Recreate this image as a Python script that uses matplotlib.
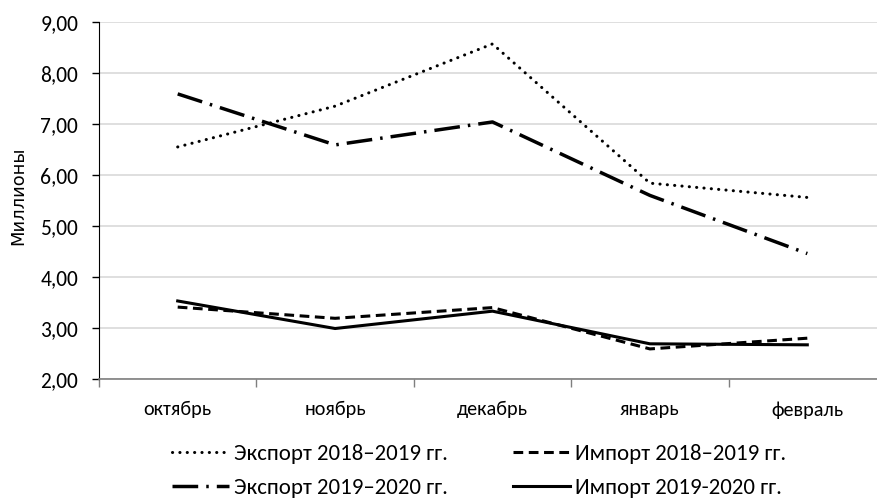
import matplotlib.pyplot as plt
import matplotlib.ticker as mticker

plt.rcParams['font.family'] = ['Carlito', 'DejaVu Sans']
plt.rcParams['lines.scale_dashes'] = False

months = ['октябрь', 'ноябрь', 'декабрь', 'январь', 'февраль']
export_18_19 = [6.55, 7.35, 8.57, 5.84, 5.56]
import_18_19 = [3.41, 3.19, 3.40, 2.59, 2.80]
export_19_20 = [7.59, 6.59, 7.04, 5.60, 4.46]
import_19_20 = [3.53, 2.99, 3.33, 2.69, 2.67]

W, H = 878, 498
fs = 14.5
fig = plt.figure(figsize=(W / 100, H / 100), dpi=100)
ax = fig.add_axes([99 / W, 1 - 379 / H, 787 / W, 357 / H])

x = range(len(months))
lw = 2.2
l1, = ax.plot(x, export_18_19, color='black', lw=lw, dashes=(0.1, 5.2),
              dash_capstyle='round', label='Экспорт 2018–2019 гг.')
l2, = ax.plot(x, import_18_19, color='black', lw=lw, dashes=(7.0, 4.0),
              dash_capstyle='butt', label='Импорт 2018–2019 гг.')
l3, = ax.plot(x, export_19_20, color='black', lw=lw + 0.3, dashes=(18.5, 5.8, 1.8, 5.8),
              dash_capstyle='butt', label='Экспорт 2019–2020 гг.')
l4, = ax.plot(x, import_19_20, color='black', lw=lw, label='Импорт 2019-2020 гг.',
              solid_joinstyle='miter')

ax.set_xlim(-0.5, len(months) - 0.5)
ax.set_ylim(2, 9)
ax.yaxis.set_major_locator(mticker.MultipleLocator(1))
ax.yaxis.set_major_formatter(mticker.FuncFormatter(lambda v, p: f'{v:.2f}'.replace('.', ',')))
ax.grid(axis='y', color='#d9d9d9', lw=1.2)
ax.set_axisbelow(True)

ax.set_xticks(list(x))
ax.set_xticklabels(months)
ax.set_xticks([i - 0.5 for i in range(len(months))], minor=True)
ax.tick_params(axis='x', which='major', length=0, pad=16, labelsize=fs)
ax.tick_params(axis='x', which='minor', length=6, width=1, color='#7f7f7f')
ax.tick_params(axis='y', length=5, width=1, pad=10, labelsize=15.5)

for side in ['top', 'right']:
    ax.spines[side].set_visible(False)
ax.spines['left'].set_color('black')
ax.spines['bottom'].set_color('#7f7f7f')
ax.spines['bottom'].set_linewidth(1.2)

fig.text(18 / W, 1 - 196 / H, 'Миллионы', rotation=90, ha='center', va='center',
         fontsize=12.9, family='DejaVu Sans')

ax.legend([l1, l3, l2, l4], [l.get_label() for l in (l1, l3, l2, l4)],
          ncol=2, frameon=False, loc='upper left',
          bbox_to_anchor=(172 / W, 1 - 444 / H), bbox_transform=fig.transFigure,
          borderpad=0, borderaxespad=0, handlelength=2.5, handletextpad=0.2,
          columnspacing=2.85, labelspacing=0.6, fontsize=16.5)

fig.savefig('out.png', dpi=100)
